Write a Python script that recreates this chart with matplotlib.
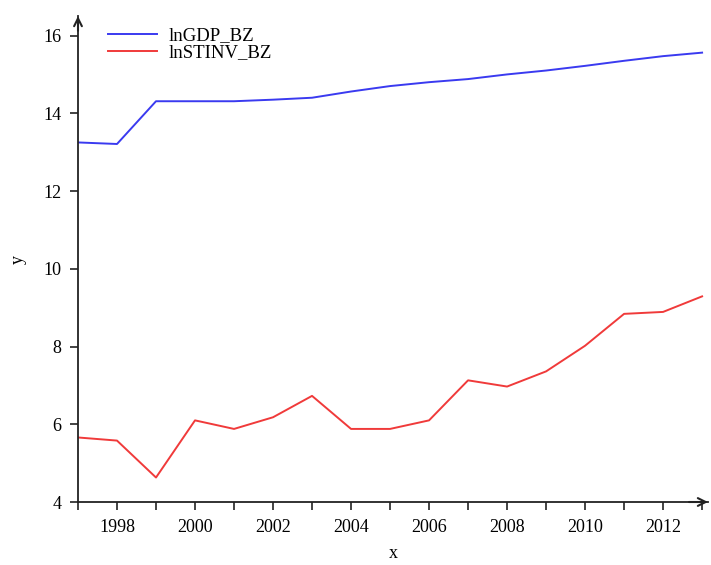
"""Log GDP and log STINV series for BZ, 1997-2013."""

import matplotlib
matplotlib.use("Agg")
import matplotlib.pyplot as plt

years = list(range(1997, 2014))
ln_gdp = [13.25, 13.21, 14.31, 14.31, 14.31, 14.35, 14.40, 14.56, 14.70,
          14.80, 14.88, 15.00, 15.10, 15.22, 15.35, 15.47, 15.56]
ln_stinv = [5.66, 5.58, 4.63, 6.10, 5.88, 6.18, 6.73, 5.88, 5.88,
            6.10, 7.13, 6.97, 7.36, 8.02, 8.84, 8.89, 9.29]
y_ticks = [4, 6, 8, 10, 12, 14, 16]
x_labels = [1998, 2000, 2002, 2004, 2006, 2008, 2010, 2012]

plt.rcParams["font.family"] = ["Liberation Serif", "DejaVu Serif"]

fig = plt.figure(figsize=(7.11, 5.65), dpi=100)
ax = fig.add_axes([0.1097, 0.1115, 0.886, 0.860])

ax.plot(years, ln_gdp, color="#3a3af0", lw=1.4, label="lnGDP_BZ")
ax.plot(years, ln_stinv, color="#f03a3a", lw=1.4, label="lnSTINV_BZ")

ax.set_xlim(1997, 2013.15)
ax.set_ylim(4, 16.5)

for side in ("top", "right"):
    ax.spines[side].set_visible(False)
for side in ("left", "bottom"):
    ax.spines[side].set_color("#222222")
    ax.spines[side].set_linewidth(1.3)

ax.set_xticks(years, minor=True)
ax.set_xticks(x_labels)
ax.set_xticklabels([str(v) for v in x_labels])
ax.set_yticks(y_ticks)
ax.tick_params(axis="both", which="both", direction="out", length=6,
               width=1.2, color="#222222", labelsize=13, pad=6)

# arrow heads at the ends of the axes
ax.annotate("", xy=(0, 1.0), xytext=(0, 0.97), xycoords="axes fraction",
            arrowprops=dict(arrowstyle="->", color="#222222", lw=1.5,
                            mutation_scale=14, shrinkA=0, shrinkB=0))
ax.annotate("", xy=(1.0, 0), xytext=(0.97, 0), xycoords="axes fraction",
            arrowprops=dict(arrowstyle="->", color="#222222", lw=1.5,
                            mutation_scale=14, shrinkA=0, shrinkB=0))

ax.set_xlabel("x", fontsize=13, labelpad=7)
ax.set_ylabel("y", fontsize=13, labelpad=12)

ax.legend(loc="upper left", bbox_to_anchor=(0.03, 1.0), frameon=False,
          fontsize=13.5, handlelength=2.6, handletextpad=0.6,
          labelspacing=0.0, borderaxespad=0.2)

fig.savefig("out.png", dpi=100)
